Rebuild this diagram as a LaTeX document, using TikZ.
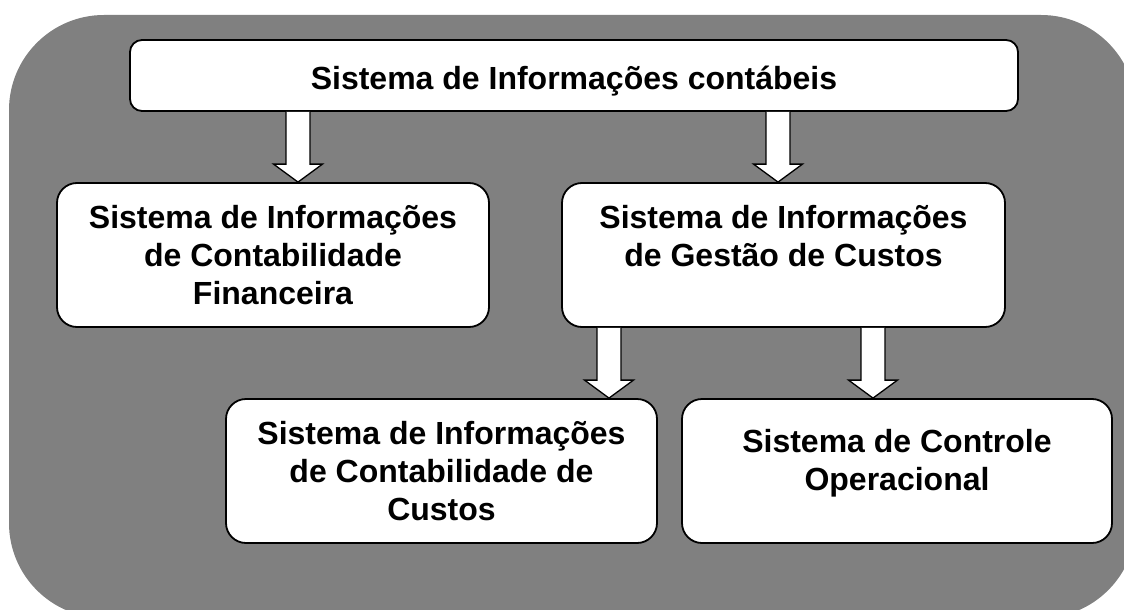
\documentclass[tikz,border=0pt]{standalone}
\usepackage{fontspec}
\setmainfont{Liberation Sans}
\usepackage{xcolor}
\usetikzlibrary{positioning, calc}

\definecolor{bggray}{RGB}{128,128,128}

\begin{document}
\begin{tikzpicture}[
  x=1pt, y=-1pt,
  sysbox/.style={draw, line width=1.8pt, fill=white, rounded corners=20pt, align=center,
    font=\fontsize{32}{38}\selectfont\bfseries, inner sep=0pt},
  blockarr/.style={draw, line width=1.3pt, fill=white, line join=miter}
]
\useasboundingbox (0,0) rectangle (1124,610);
\clip (0,0) rectangle (1124,610);

% Background panel
\fill[bggray, rounded corners=95pt] (9,15) rectangle (1136,618);

% Boxes
\node[sysbox, rounded corners=12pt, minimum width=888pt, minimum height=71pt,
  text height=30pt, text depth=3pt] (sic) at (574,75.5)
  {Sistema de Informações contábeis};
\node[sysbox, minimum width=432pt, minimum height=144pt] (sicf) at (273,255)
  {Sistema de Informações\\de Contabilidade\\Financeira};
\node[sysbox, minimum width=443pt, minimum height=144pt] (sigc) at (783.5,255)
  {Sistema de Informações\\de Gestão de Custos\\\mbox{}};
\node[sysbox, minimum width=431pt, minimum height=144pt] (sicc) at (441.5,471)
  {Sistema de Informações\\de Contabilidade de\\Custos};
\node[sysbox, minimum width=430pt, minimum height=144pt] (sco) at (897,471)
  {Sistema de Controle\\Operacional\\[-16pt]\mbox{}};

% Arrow columns
\coordinate (xa) at (298,0);
\coordinate (xb) at (778,0);
\coordinate (xc) at (609,0);
\coordinate (xd) at (873,0);

% Block arrows
\foreach \from/\to/\col in {sic/sicf/xa, sic/sigc/xb, sigc/sicc/xc, sigc/sco/xd}{
  \draw[blockarr] ($(\from.south -| \col)+(-12,0)$) -- ($(\to.north -| \col)+(-12,-18)$)
    -- ($(\to.north -| \col)+(-24.5,-18)$) -- (\to.north -| \col)
    -- ($(\to.north -| \col)+(24.5,-18)$) -- ($(\to.north -| \col)+(12,-18)$)
    -- ($(\from.south -| \col)+(12,0)$);
}

\end{tikzpicture}
\end{document}
